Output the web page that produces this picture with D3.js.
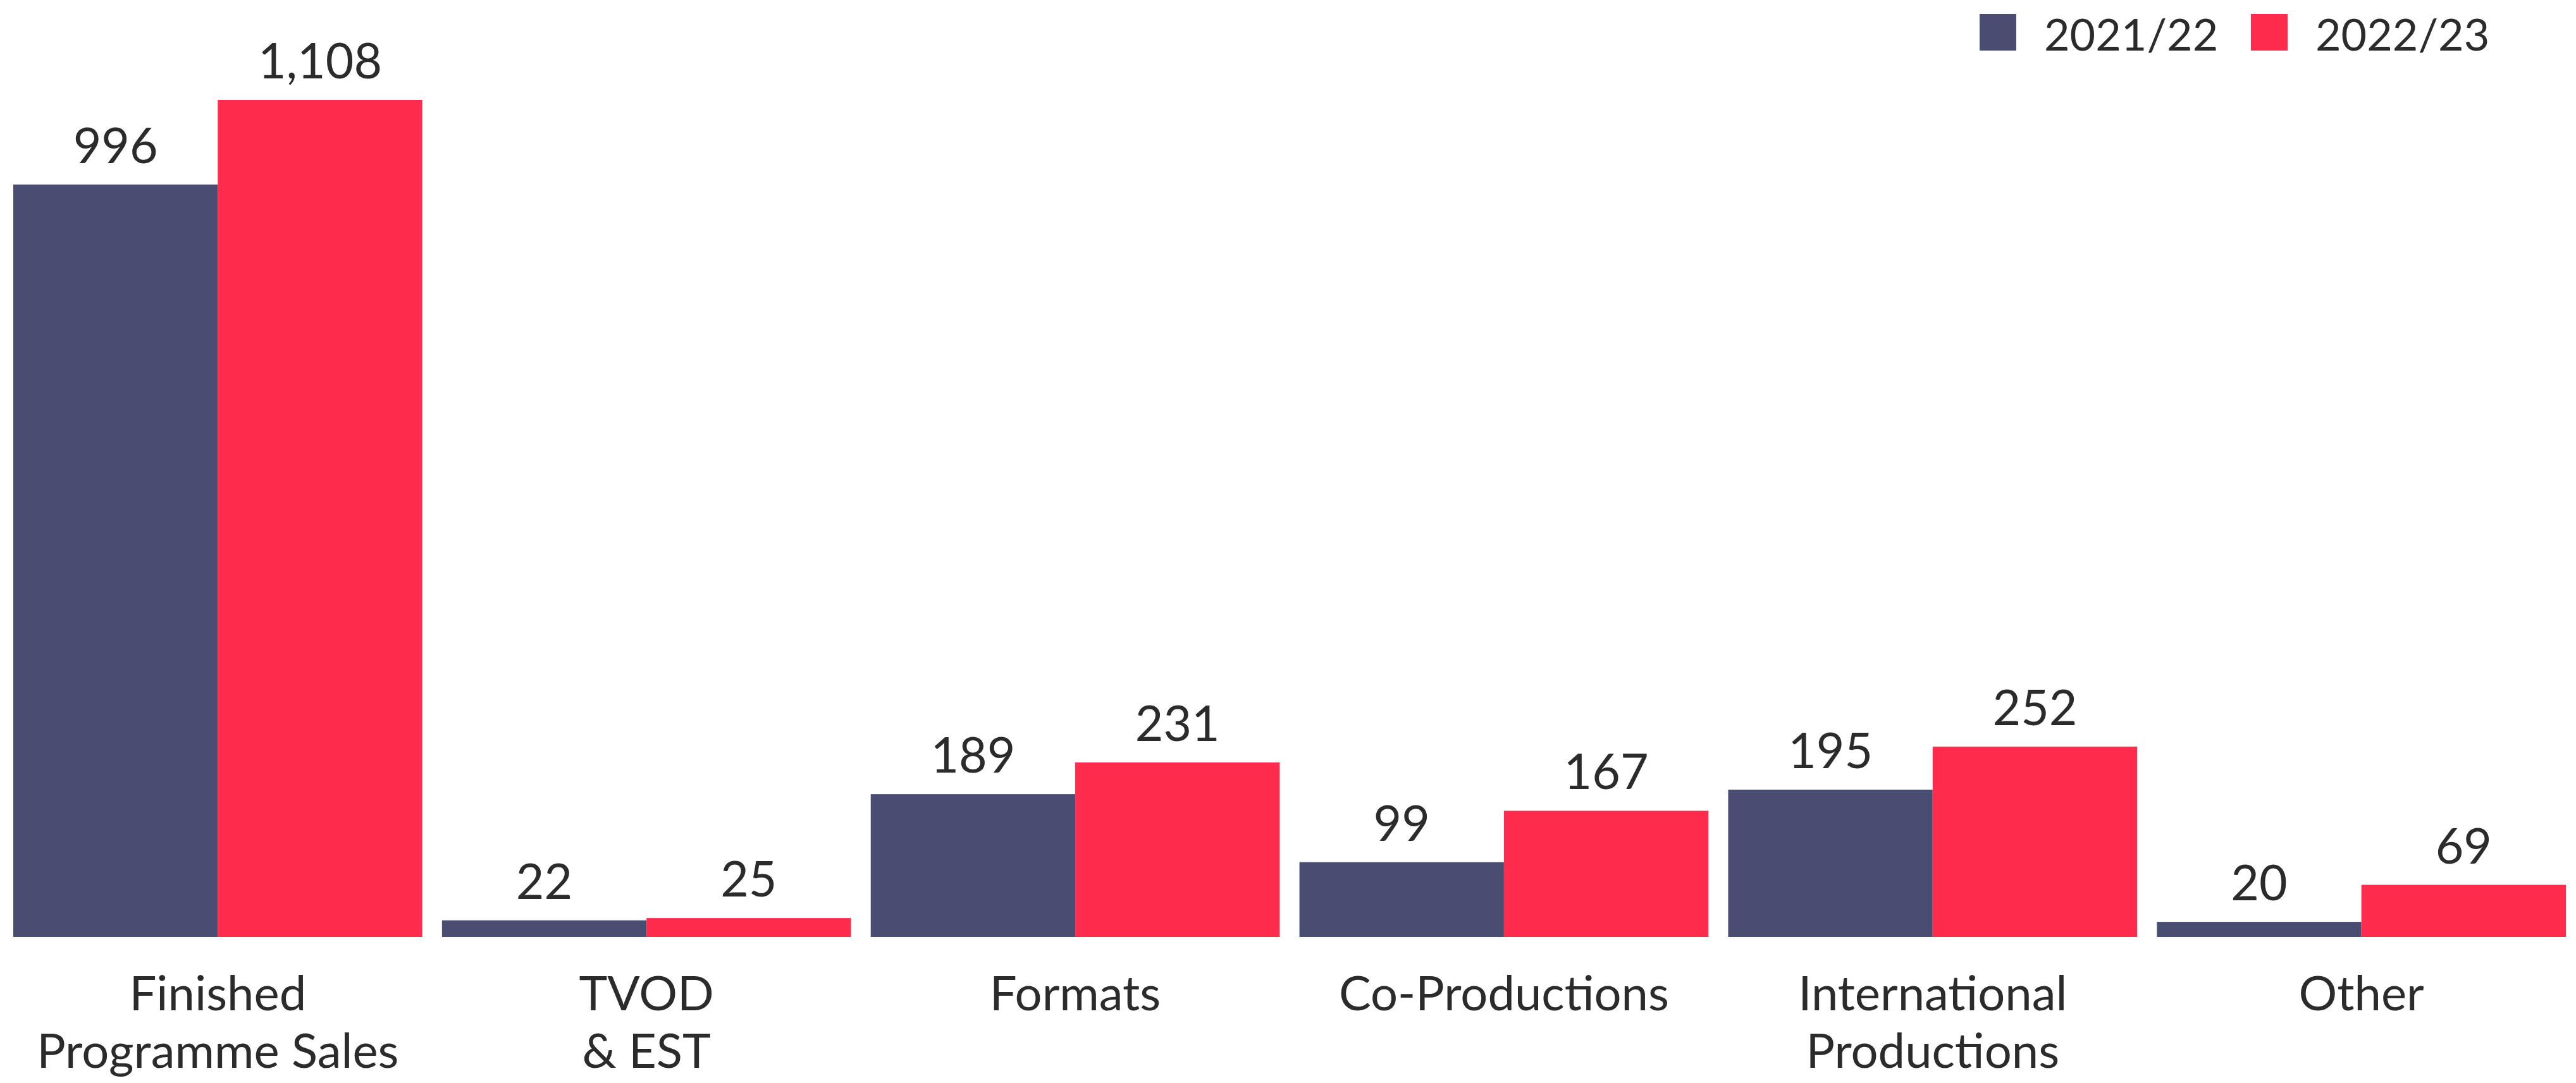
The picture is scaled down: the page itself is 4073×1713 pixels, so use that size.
<!DOCTYPE html>
<html>
<head>
<meta charset="utf-8">
<script src="https://cdn.jsdelivr.net/npm/d3@7"></script>
<style>
  html, body { margin: 0; padding: 0; background: #fff; }
  svg text { font-family: Lato, 'Open Sans', sans-serif; fill: #2b2b2b; }
</style>
</head>
<body>
<div id="chart"></div>
<script>
const categories = [
  ['Finished', 'Programme Sales'],
  ['TVOD', '& EST'],
  ['Formats'],
  ['Co-Productions'],
  ['International', 'Productions'],
  ['Other']
]
const seriesNames = ['2021/22', '2022/23']
const values2122 = [996, 22, 189, 99, 195, 20]
const values2223 = [1108, 25, 231, 167, 252, 69]
const colors = ['#494d72', '#ff2c4e']

const width = 4073
const height = 1713
const baseline = 1482

const keys = categories.map(c => c.join(' '))
const rows = keys.map((k, i) => ({ key: k, lines: categories[i], vals: [values2122[i], values2223[i]] }))

const svg = d3.select('#chart')
  .append('svg')
  .attr('width', width)
  .attr('height', height)

const x0 = d3.scaleBand()
  .domain(keys)
  .range([21, 4057])
  .paddingInner(0.046)
  .paddingOuter(0)

const x1 = d3.scaleBand()
  .domain(seriesNames)
  .range([0, x0.bandwidth()])

const y = d3.scaleLinear()
  .domain([0, 1108])
  .range([baseline, 158])

// ── BARS ─────────────────────────────────────────────
const groups = svg.selectAll('.group')
  .data(rows)
  .join('g')
  .attr('class', 'group')
  .attr('transform', d => `translate(${x0(d.key)},0)`)

groups.selectAll('rect')
  .data(d => d.vals.map((v, i) => ({ name: seriesNames[i], value: v, i })))
  .join('rect')
  .attr('x', d => x1(d.name))
  .attr('y', d => y(d.value))
  .attr('width', x1.bandwidth())
  .attr('height', d => baseline - y(d.value))
  .attr('fill', d => colors[d.i])

groups.selectAll('.val')
  .data(d => d.vals.map((v, i) => ({ name: seriesNames[i], value: v })))
  .join('text')
  .attr('class', 'val')
  .attr('x', d => x1(d.name) + x1.bandwidth() / 2)
  .attr('y', d => y(d.value) - 34)
  .attr('text-anchor', 'middle')
  .attr('font-size', 77)
  .text(d => d3.format(',')(d.value))

// ── CATEGORY LABELS ──────────────────────────────────
groups.append('text')
  .attr('text-anchor', 'middle')
  .attr('font-size', 76)
  .selectAll('tspan')
  .data(d => d.lines)
  .join('tspan')
  .attr('x', x0.bandwidth() / 2)
  .attr('y', (d, i) => 1598 + i * 91)
  .text(d => d)

// ── LEGEND ───────────────────────────────────────────
const legendX = [3130, 3559]
const legend = svg.selectAll('.legend')
  .data(seriesNames)
  .join('g')
  .attr('class', 'legend')
  .attr('transform', (d, i) => `translate(${legendX[i]},22)`)

legend.append('rect')
  .attr('width', 58)
  .attr('height', 58)
  .attr('fill', (d, i) => colors[i])

legend.append('text')
  .attr('x', 102)
  .attr('y', 58)
  .attr('font-size', 70)
  .text(d => d)
</script>
</body>
</html>
